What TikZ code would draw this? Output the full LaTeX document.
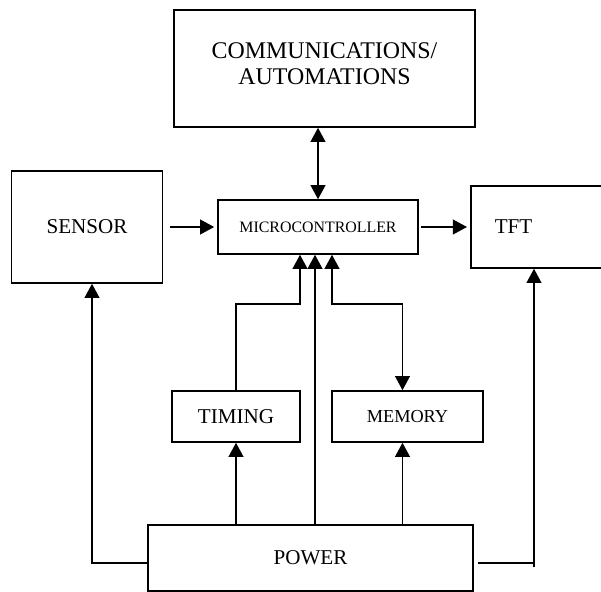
\documentclass[tikz,border=0pt]{standalone}
\usepackage{fontspec}
\setmainfont{Liberation Serif}
\usetikzlibrary{arrows.meta, positioning, calc}

\begin{document}
\begin{tikzpicture}[x=0.025cm, y=-0.025cm,
  block/.style={draw, line width=1.1pt, inner sep=0pt, font=\fontsize{15}{18}\selectfont},
  flow/.style={line width=1.1pt, -{Triangle[length=10pt, width=10.5pt]}},
  both/.style={line width=1.1pt, {Triangle[length=10pt, width=10.5pt]}-{Triangle[length=10pt, width=10.5pt]}}]
  \useasboundingbox (0,0) rectangle (601,592);
  \clip (0,0) rectangle (601,592);

  % blocks
  \node[block, minimum width=7.525cm, minimum height=2.925cm, align=center, font=\fontsize{17}{18.5}\selectfont] (comm) at (324.5,68.5) {COMMUNICATIONS/\\AUTOMATIONS\\[-11.5pt]};
  \node[block, minimum width=3.775cm, minimum height=2.8cm] (sensor) at (87,227) {SENSOR};
  \node[block, minimum width=5cm, minimum height=1.35cm, font=\fontsize{11.3}{13}\selectfont] (micro) at (318,227) {MICROCONTROLLER};
  \node[block, anchor=west, minimum height=2.05cm, inner xsep=0.6cm, text width=2.3cm, align=left] (tft) at (470,227) {TFT};
  \node[block, minimum width=3.2cm, minimum height=1.275cm] (timing) at (236,416.5) {TIMING};
  \node[block, minimum width=3.775cm, minimum height=1.275cm, font=\fontsize{13}{15}\selectfont] (memory) at (407.5,416.5) {MEMORY};
  \node[block, minimum width=8.125cm, minimum height=1.65cm] (power) at (310.5,558) {POWER};

  % ports on the microcontroller and the side blocks
  \coordinate (mt) at ($(micro.south)+(-18,0)$);
  \coordinate (mp) at ($(micro.south)+(-3,0)$);
  \coordinate (mm) at ($(micro.south)+(14,0)$);
  \coordinate (mem) at ($(memory.north)+(-5,0)$);
  \coordinate (sp) at ($(sensor.south)+(5,0)$);
  \coordinate (tp) at ($(tft.south west)+(64,0)$);
  \coordinate (pl) at ($(power.west)+(0,5)$);
  \coordinate (pr) at ($(power.east)+(0,5)$);

  % connectors
  \draw[both] (micro.north) -- (micro.north |- comm.south);
  \draw[flow, shorten <=0.175cm, shorten >=0.075cm] (sensor) -- (micro);
  \draw[flow, shorten <=0.05cm, shorten >=0.075cm] (micro) -- (tft);
  \draw[flow] (timing.north) |- ($(mt)+(0,49)$) -- (mt);
  \draw[flow] (power.north -| mp) -- (mp);
  \draw[both] (mm) -- ++(0,49) -| (mem);
  \draw[flow] (power.north -| timing.south) -- (timing.south);
  \draw[flow] (power.north -| mem) -- (memory.south -| mem);
  \draw[flow] (pl) -| (sp);
  \draw[line width=2pt, shorten <=0.1cm] (pr) -- (pr -| tp);
  \draw[flow] ($(pr -| tp)+(0,4)$) -- (tp);
\end{tikzpicture}
\end{document}
